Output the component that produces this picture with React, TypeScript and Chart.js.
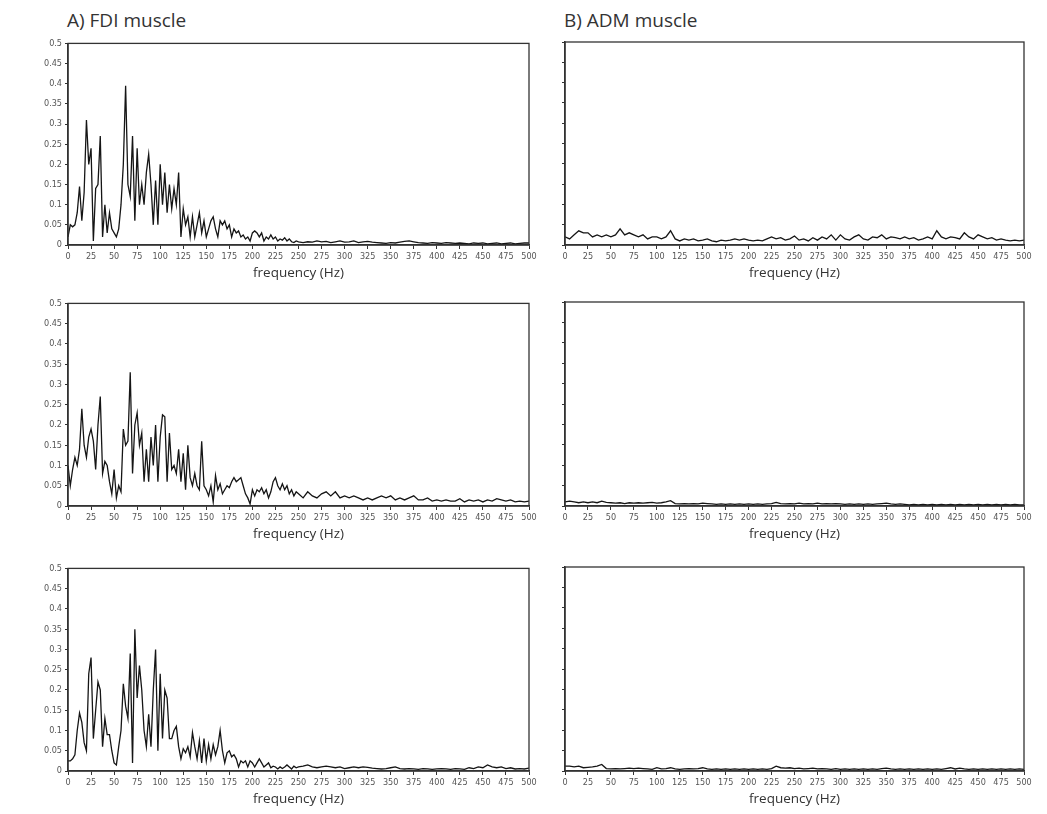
import React, { useEffect, useRef } from "react";
import { Chart, registerables } from "chart.js";

Chart.register(...registerables);

// Frequency grids (Hz)
const freqFine = [
  0, 2.5, 5, 7.5, 10, 12.5, 15, 17.5, 20, 22.5,
  25, 27.5, 30, 32.5, 35, 37.5, 40, 42.5, 45, 47.5,
  50, 52.5, 55, 57.5, 60, 62.5, 65, 67.5, 70, 72.5,
  75, 77.5, 80, 82.5, 85, 87.5, 90, 92.5, 95, 97.5,
  100, 102.5, 105, 107.5, 110, 112.5, 115, 117.5, 120, 122.5,
  125, 127.5, 130, 132.5, 135, 137.5, 140, 142.5, 145, 147.5,
  150, 152.5, 155, 157.5, 160, 162.5, 165, 167.5, 170, 172.5,
  175, 177.5, 180, 182.5, 185, 187.5, 190, 192.5, 195, 197.5,
  200, 202.5, 205, 207.5, 210, 212.5, 215, 217.5, 220, 222.5,
  225, 227.5, 230, 232.5, 235, 237.5, 240, 242.5, 245, 247.5,
  250,
  255, 260, 265, 270, 275, 280, 285, 290, 295, 300,
  305, 310, 315, 320, 325, 330, 335, 340, 345, 350,
  355, 360, 365, 370, 375, 380, 385, 390, 395, 400,
  405, 410, 415, 420, 425, 430, 435, 440, 445, 450,
  455, 460, 465, 470, 475, 480, 485, 490, 495, 500,
];

const freqCoarse = [
  0, 5, 10, 15, 20, 25, 30, 35, 40, 45,
  50, 55, 60, 65, 70, 75, 80, 85, 90, 95,
  100, 105, 110, 115, 120, 125, 130, 135, 140, 145,
  150, 155, 160, 165, 170, 175, 180, 185, 190, 195,
  200, 205, 210, 215, 220, 225, 230, 235, 240, 245,
  250, 255, 260, 265, 270, 275, 280, 285, 290, 295,
  300, 305, 310, 315, 320, 325, 330, 335, 340, 345,
  350, 355, 360, 365, 370, 375, 380, 385, 390, 395,
  400, 405, 410, 415, 420, 425, 430, 435, 440, 445,
  450, 455, 460, 465, 470, 475, 480, 485, 490, 495,
  500,
];

const xTickValues = [0, 25, 50, 75, 100, 125, 150, 175, 200, 225, 250, 275, 300, 325, 350, 375, 400, 425, 450, 475, 500];
const yTickValues = [0, 0.05, 0.1, 0.15, 0.2, 0.25, 0.3, 0.35, 0.4, 0.45, 0.5];

const columnTitles = ["A) FDI muscle", "B) ADM muscle"];
const axisTitle = "frequency (Hz)";

// FDI muscle spectra (on freqFine)
const fdi1 = [
  0.02, 0.05, 0.045, 0.05, 0.08, 0.145, 0.06, 0.13, 0.31, 0.2,
  0.24, 0.01, 0.14, 0.15, 0.27, 0.02, 0.1, 0.03, 0.08, 0.04,
  0.03, 0.02, 0.04, 0.1, 0.2, 0.395, 0.15, 0.12, 0.27, 0.06,
  0.24, 0.1, 0.15, 0.1, 0.18, 0.225, 0.15, 0.05, 0.16, 0.05,
  0.2, 0.1, 0.18, 0.08, 0.15, 0.09, 0.14, 0.1, 0.18, 0.02,
  0.09, 0.05, 0.07, 0.02, 0.07, 0.02, 0.05, 0.08, 0.03, 0.06,
  0.02, 0.04, 0.06, 0.07, 0.04, 0.02, 0.06, 0.05, 0.06, 0.04,
  0.05, 0.02, 0.04, 0.03, 0.035, 0.02, 0.025, 0.015, 0.02, 0.01,
  0.03, 0.035, 0.03, 0.02, 0.03, 0.01, 0.02, 0.015, 0.025, 0.015,
  0.02, 0.01, 0.015, 0.012, 0.018, 0.01, 0.015, 0.008, 0.006, 0.01,
  0.008,
  0.006, 0.008, 0.007, 0.01, 0.008, 0.009, 0.006, 0.008, 0.01, 0.007,
  0.008, 0.01, 0.006, 0.008, 0.009, 0.007, 0.006, 0.005, 0.004, 0.006,
  0.005, 0.007, 0.009, 0.01, 0.008, 0.006, 0.005, 0.004, 0.006, 0.005,
  0.004, 0.006, 0.005, 0.004, 0.005, 0.004, 0.003, 0.005, 0.004, 0.005,
  0.003, 0.004, 0.005, 0.003, 0.004, 0.005, 0.003, 0.004, 0.005, 0.005,
];

const fdi2 = [
  0.1, 0.05, 0.09, 0.12, 0.1, 0.14, 0.24, 0.15, 0.12, 0.17,
  0.19, 0.16, 0.09, 0.2, 0.27, 0.08, 0.11, 0.1, 0.06, 0.03,
  0.09, 0.02, 0.05, 0.035, 0.19, 0.15, 0.16, 0.33, 0.08, 0.2,
  0.23, 0.15, 0.18, 0.06, 0.14, 0.06, 0.17, 0.1, 0.2, 0.06,
  0.17, 0.225, 0.22, 0.06, 0.18, 0.09, 0.1, 0.08, 0.14, 0.06,
  0.13, 0.04, 0.15, 0.07, 0.05, 0.08, 0.05, 0.04, 0.16, 0.05,
  0.04, 0.025, 0.05, 0.01, 0.075, 0.04, 0.055, 0.03, 0.04, 0.05,
  0.045, 0.06, 0.07, 0.06, 0.065, 0.07, 0.05, 0.03, 0.02, 0.005,
  0.04, 0.025, 0.04, 0.035, 0.045, 0.03, 0.04, 0.02, 0.035, 0.06,
  0.07, 0.05, 0.04, 0.055, 0.04, 0.05, 0.03, 0.04, 0.025, 0.035,
  0.03,
  0.02, 0.035, 0.025, 0.02, 0.03, 0.035, 0.025, 0.035, 0.02, 0.025,
  0.02, 0.025, 0.02, 0.015, 0.02, 0.015, 0.02, 0.025, 0.02, 0.025,
  0.015, 0.02, 0.015, 0.02, 0.025, 0.015, 0.015, 0.02, 0.012, 0.015,
  0.012, 0.015, 0.012, 0.012, 0.018, 0.01, 0.015, 0.012, 0.015, 0.01,
  0.015, 0.012, 0.018, 0.015, 0.012, 0.015, 0.01, 0.012, 0.01, 0.012,
];

const fdi3 = [
  0.025, 0.025, 0.03, 0.04, 0.1, 0.143, 0.12, 0.07, 0.05, 0.24,
  0.28, 0.08, 0.15, 0.22, 0.2, 0.06, 0.13, 0.09, 0.09, 0.05,
  0.02, 0.015, 0.06, 0.1, 0.215, 0.16, 0.13, 0.29, 0.02, 0.35,
  0.18, 0.26, 0.2, 0.1, 0.06, 0.14, 0.06, 0.2, 0.3, 0.05,
  0.24, 0.08, 0.2, 0.18, 0.08, 0.08, 0.1, 0.11, 0.06, 0.03,
  0.055, 0.045, 0.06, 0.035, 0.095, 0.06, 0.03, 0.075, 0.02, 0.08,
  0.025, 0.065, 0.03, 0.065, 0.04, 0.06, 0.1, 0.05, 0.02, 0.045,
  0.05, 0.035, 0.04, 0.03, 0.01, 0.025, 0.02, 0.025, 0.01, 0.025,
  0.02, 0.01, 0.02, 0.03, 0.02, 0.01, 0.015, 0.02, 0.008, 0.012,
  0.01, 0.005, 0.01, 0.006, 0.01, 0.015, 0.01, 0.005, 0.012, 0.008,
  0.01,
  0.012, 0.015, 0.01, 0.008, 0.01, 0.012, 0.01, 0.008, 0.01, 0.006,
  0.008, 0.01, 0.008, 0.01, 0.009, 0.007, 0.006, 0.005, 0.006, 0.008,
  0.01, 0.006, 0.005, 0.006, 0.005, 0.004, 0.006, 0.005, 0.004, 0.005,
  0.006, 0.005, 0.004, 0.006, 0.005, 0.004, 0.008, 0.006, 0.01, 0.008,
  0.015, 0.01, 0.008, 0.01, 0.006, 0.008, 0.005, 0.006, 0.005, 0.007,
];

// ADM muscle spectra (on freqCoarse)
const adm1 = [
  0.02, 0.015, 0.025, 0.035, 0.03, 0.03, 0.02, 0.025, 0.02, 0.025,
  0.02, 0.025, 0.04, 0.025, 0.03, 0.025, 0.02, 0.025, 0.015, 0.02,
  0.02, 0.015, 0.02, 0.035, 0.015, 0.01, 0.015, 0.012, 0.015, 0.01,
  0.012, 0.015, 0.01, 0.008, 0.012, 0.01, 0.012, 0.015, 0.012, 0.015,
  0.012, 0.01, 0.012, 0.01, 0.015, 0.02, 0.015, 0.018, 0.012, 0.015,
  0.022, 0.012, 0.015, 0.01, 0.018, 0.012, 0.02, 0.015, 0.025, 0.012,
  0.025, 0.015, 0.012, 0.02, 0.025, 0.015, 0.012, 0.02, 0.018, 0.025,
  0.015, 0.02, 0.018, 0.015, 0.02, 0.015, 0.018, 0.012, 0.015, 0.02,
  0.015, 0.035, 0.02, 0.015, 0.02, 0.018, 0.015, 0.03, 0.02, 0.015,
  0.025, 0.02, 0.015, 0.018, 0.012, 0.015, 0.012, 0.01, 0.012, 0.01,
  0.012,
];

const adm2 = [
  0.01, 0.012, 0.01, 0.008, 0.01, 0.008, 0.01, 0.008, 0.012, 0.009,
  0.008, 0.007, 0.008, 0.006, 0.008, 0.007, 0.008, 0.007, 0.008, 0.009,
  0.007, 0.008, 0.01, 0.013, 0.006, 0.005, 0.006, 0.005, 0.006, 0.005,
  0.007, 0.006, 0.005, 0.004, 0.005, 0.004, 0.005, 0.004, 0.005, 0.004,
  0.005, 0.004, 0.005, 0.004, 0.005, 0.006, 0.009, 0.006, 0.005, 0.006,
  0.005, 0.007, 0.005, 0.006, 0.005, 0.007, 0.005, 0.006, 0.005, 0.006,
  0.005, 0.004, 0.005, 0.004, 0.005, 0.004, 0.005, 0.004, 0.005, 0.006,
  0.007, 0.005, 0.004, 0.005, 0.004, 0.003, 0.004, 0.003, 0.004, 0.003,
  0.004, 0.003, 0.004, 0.003, 0.004, 0.003, 0.004, 0.003, 0.004, 0.003,
  0.004, 0.003, 0.004, 0.003, 0.004, 0.003, 0.004, 0.003, 0.004, 0.003,
  0.003,
];

const adm3 = [
  0.012, 0.012, 0.01, 0.012, 0.008, 0.009, 0.01, 0.012, 0.016, 0.006,
  0.005, 0.006, 0.005, 0.006, 0.007, 0.006, 0.007, 0.006, 0.005, 0.004,
  0.008, 0.005, 0.006, 0.008, 0.005, 0.004, 0.005, 0.006, 0.005, 0.006,
  0.008, 0.005, 0.004, 0.005, 0.004, 0.005, 0.004, 0.005, 0.004, 0.005,
  0.004, 0.005, 0.004, 0.005, 0.004, 0.006, 0.012, 0.008, 0.007, 0.008,
  0.006, 0.007, 0.005, 0.006, 0.007, 0.005, 0.006, 0.005, 0.004, 0.006,
  0.004, 0.005, 0.004, 0.005, 0.004, 0.005, 0.004, 0.005, 0.004, 0.006,
  0.007, 0.005, 0.004, 0.005, 0.004, 0.005, 0.004, 0.005, 0.004, 0.005,
  0.004, 0.005, 0.004, 0.006, 0.008, 0.005, 0.007, 0.005, 0.004, 0.005,
  0.004, 0.005, 0.004, 0.005, 0.004, 0.005, 0.004, 0.005, 0.004, 0.005,
  0.004,
];

const TICK_FONT = "'Liberation Sans Narrow', 'DejaVu Sans Condensed', 'DejaVu Sans', sans-serif";
const TEXT_FONT = "'Open Sans', 'Noto Sans', sans-serif";
const AXIS_COLOR = "#333";

const framePlugin = {
  id: "frame",
  afterDraw(chart: any) {
    const { ctx, chartArea } = chart;
    const { left, top, right, bottom } = chartArea;
    ctx.save();
    ctx.strokeStyle = AXIS_COLOR;
    ctx.lineWidth = 1.3;
    ctx.strokeRect(left, top, right - left, bottom - top);
    ctx.restore();
  },
};

type PanelProps = {
  left: number;
  top: number;
  width: number;
  height: number;
  freqs: number[];
  values: number[];
  showYLabels: boolean;
  yAxisWidth: number;
};

function Panel({ left, top, width, height, freqs, values, showYLabels, yAxisWidth }: PanelProps) {
  const ref = useRef<HTMLCanvasElement | null>(null);
  useEffect(() => {
    if (!ref.current) return;
    const points = freqs.map((f, i) => ({ x: f, y: values[i] }));
    const chart = new Chart(ref.current, {
      type: "line",
      data: {
        datasets: [
          {
            data: points,
            borderColor: "#151515",
            borderWidth: 1.3,
            pointRadius: 0,
            tension: 0,
            fill: false,
          },
        ],
      },
      options: {
        responsive: false,
        animation: false,
        events: [],
        layout: { padding: { top: 7, right: 11, bottom: 0, left: 0 } },
        plugins: { legend: { display: false }, tooltip: { enabled: false }, title: { display: false } },
        scales: {
          x: {
            type: "linear",
            min: 0,
            max: 500,
            afterBuildTicks: (scale: any) => {
              scale.ticks = xTickValues.map((v) => ({ value: v }));
            },
            afterFit: (scale: any) => {
              scale.height = 40;
            },
            ticks: {
              autoSkip: false,
              maxRotation: 0,
              minRotation: 0,
              padding: 2,
              color: "#555",
              font: { family: TICK_FONT, size: 9 },
              callback: (v: any) => String(v),
            },
            grid: { display: true, drawOnChartArea: false, drawTicks: true, tickLength: 4, color: AXIS_COLOR, lineWidth: 1 },
            border: { display: true, color: AXIS_COLOR, width: 1.5 },
            title: {
              display: true,
              text: axisTitle,
              color: "#333",
              font: { family: TEXT_FONT, size: 13.5 },
              padding: { top: 0, bottom: 4 },
            },
          },
          y: {
            type: "linear",
            min: 0,
            max: 0.5,
            afterBuildTicks: (scale: any) => {
              scale.ticks = yTickValues.map((v) => ({ value: v }));
            },
            afterFit: (scale: any) => {
              scale.width = yAxisWidth;
            },
            ticks: {
              display: showYLabels,
              padding: 3,
              color: "#555",
              font: { family: TICK_FONT, size: 9 },
              callback: (v: any) => String(v),
            },
            grid: { display: true, drawOnChartArea: false, drawTicks: true, tickLength: 3, color: AXIS_COLOR, lineWidth: 1 },
            border: { display: true, color: AXIS_COLOR, width: 1.5 },
          },
        },
      },
      plugins: [framePlugin],
    } as any);
    return () => chart.destroy();
  }, [freqs, values, showYLabels, yAxisWidth]);

  return (
    <canvas
      ref={ref}
      width={width}
      height={height}
      style={{ position: "absolute", left, top, width, height }}
    />
  );
}

export default function App() {
  const rows = [
    { top: 35, height: 250, fdi: fdi1, adm: adm1 },
    { top: 295, height: 251, fdi: fdi2, adm: adm2 },
    { top: 560, height: 251, fdi: fdi3, adm: adm3 },
  ];
  return (
    <div style={{ position: "absolute", left: 0, top: 0, width: 1047, height: 814, background: "#fff", overflow: "hidden" }}>
      <div style={{ position: "absolute", left: 67, top: 8, font: `19px ${TEXT_FONT}`, color: "#333", lineHeight: "24px", whiteSpace: "nowrap" }}>
        {columnTitles[0]}
      </div>
      <div style={{ position: "absolute", left: 564, top: 8, font: `19px ${TEXT_FONT}`, color: "#333", lineHeight: "24px", whiteSpace: "nowrap" }}>
        {columnTitles[1]}
      </div>
      {rows.map((r, i) => (
        <React.Fragment key={i}>
          <Panel left={20} top={r.top} width={520} height={r.height} freqs={freqFine} values={r.fdi} showYLabels={true} yAxisWidth={48} />
          <Panel left={545} top={r.top} width={490} height={r.height} freqs={freqCoarse} values={r.adm} showYLabels={false} yAxisWidth={20} />
        </React.Fragment>
      ))}
    </div>
  );
}
